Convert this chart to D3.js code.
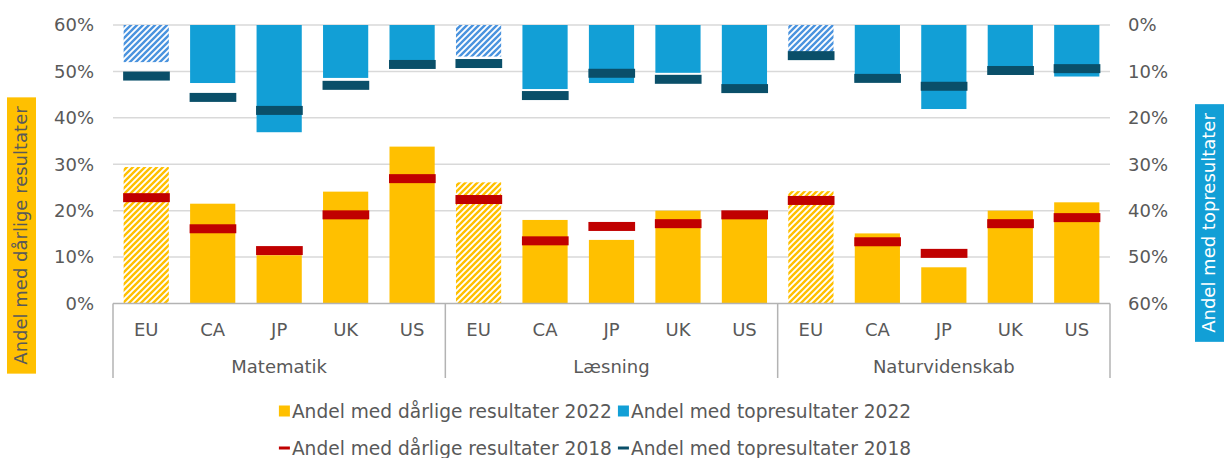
<!DOCTYPE html>
<html>
<head>
<meta charset="utf-8">
<script src="https://cdn.jsdelivr.net/npm/d3@7"></script>
<style>
  body { margin: 0; background: #fff; }
  svg { font-family: "DejaVu Sans", Verdana, sans-serif; }
</style>
</head>
<body>
<svg id="chart"></svg>
<script>
// data (shares, 0-1)
const subjects = ["Matematik", "Læsning", "Naturvidenskab"];
const countries = ["EU", "CA", "JP", "UK", "US"];
const hatched = ["EU"];

// order: Matematik EU..US, Læsning EU..US, Naturvidenskab EU..US
const poor2022 = [0.294, 0.215, 0.104, 0.241, 0.338,  0.261, 0.180, 0.137, 0.200, 0.186,  0.242, 0.151, 0.078, 0.200, 0.218];
const poor2018 = [0.228, 0.161, 0.114, 0.191, 0.269,  0.224, 0.135, 0.166, 0.172, 0.191,  0.222, 0.133, 0.108, 0.172, 0.185];
const top2022  = [0.080, 0.125, 0.231, 0.114, 0.082,  0.068, 0.138, 0.125, 0.103, 0.130,  0.058, 0.118, 0.181, 0.095, 0.111];
const top2018  = [0.110, 0.156, 0.184, 0.130, 0.085,  0.083, 0.152, 0.104, 0.117, 0.137,  0.066, 0.115, 0.132, 0.098, 0.094];

const yTicks = [0, 0.1, 0.2, 0.3, 0.4, 0.5, 0.6];
const legendRow1 = ["Andel med dårlige resultater 2022", "Andel med topresultater 2022"];
const legendRow2 = ["Andel med dårlige resultater 2018", "Andel med topresultater 2018"];
const leftTitle = "Andel med dårlige resultater";
const rightTitle = "Andel med topresultater";

const col = { yellow: "#FFC000", red: "#C00000", blue: "#129FD6", teal: "#0A4F69", hatchBlue: "#4A93DE", text: "#595959", grid: "#D9D9D9", axis: "#B3B3B3" };

const W = 1225, H = 458;
const svg = d3.select("#chart").attr("width", W).attr("height", H);

const plot = { left: 113, right: 1110, top: 25, bottom: 303.5 };

// build rows
const rows = [];
subjects.forEach(function (s, si) {
    countries.forEach(function (c, ci) {
        const i = si * countries.length + ci;
        rows.push({ key: s + "|" + c, subject: s, country: c, poor: poor2022[i], poorOld: poor2018[i], top: top2022[i], topOld: top2018[i] });
    });
});

const x = d3.scaleBand()
    .domain(rows.map(d => d.key))
    .range([plot.left, plot.right])
    .paddingInner(0.32)
    .paddingOuter(0.16);

const yL = d3.scaleLinear().domain([0, 0.6]).range([plot.bottom, plot.top]);
const yR = d3.scaleLinear().domain([0, 0.6]).range([plot.top, plot.bottom]);

// hatch patterns (fine upward diagonal)
const defs = svg.append("defs");
function hatch(id, color) {
    const p = defs.append("pattern").attr("id", id)
        .attr("patternUnits", "userSpaceOnUse").attr("width", 6).attr("height", 6);
    p.append("rect").attr("width", 6).attr("height", 6).attr("fill", "#fff");
    p.append("path").attr("d", "M0,6 L6,0 M-1.5,1.5 L1.5,-1.5 M4.5,7.5 L7.5,4.5")
        .attr("stroke", color).attr("stroke-width", 2.4);
}
hatch("hatchY", col.yellow);
hatch("hatchB", col.hatchBlue);

// gridlines
svg.append("g").selectAll("line")
    .data(yTicks.filter(t => t > 0))
    .enter().append("line")
    .attr("x1", plot.left).attr("x2", plot.right)
    .attr("y1", d => yL(d)).attr("y2", d => yL(d))
    .attr("stroke", col.grid).attr("stroke-width", 1.5);

// left axis labels
const fmt = d3.format(".0%");
svg.append("g").selectAll("text")
    .data(yTicks).enter().append("text")
    .attr("x", 94).attr("y", d => yL(d))
    .attr("dy", "0.35em").attr("text-anchor", "end")
    .attr("font-size", 18).attr("fill", col.text)
    .text(d => fmt(d));

// right axis labels
svg.append("g").selectAll("text")
    .data(yTicks).enter().append("text")
    .attr("x", 1128).attr("y", d => yR(d))
    .attr("dy", "0.35em").attr("text-anchor", "start")
    .attr("font-size", 18).attr("fill", col.text)
    .text(d => fmt(d));

// bars 2022
svg.append("g").selectAll("rect")
    .data(rows).enter().append("rect")
    .attr("x", d => x(d.key)).attr("width", x.bandwidth())
    .attr("y", d => yL(d.poor)).attr("height", d => yL(0) - yL(d.poor))
    .attr("fill", d => hatched.includes(d.country) ? "url(#hatchY)" : col.yellow);

svg.append("g").selectAll("rect")
    .data(rows).enter().append("rect")
    .attr("x", d => x(d.key)).attr("width", x.bandwidth())
    .attr("y", yR(0)).attr("height", d => yR(d.top) - yR(0))
    .attr("fill", d => hatched.includes(d.country) ? "url(#hatchB)" : col.blue);

// 2018 markers
const mh = 9;
svg.append("g").selectAll("rect")
    .data(rows).enter().append("rect")
    .attr("x", d => x(d.key) - 0.5).attr("width", x.bandwidth() + 1.5)
    .attr("y", d => yL(d.poorOld) - mh / 2).attr("height", mh)
    .attr("fill", col.red);

svg.append("g").selectAll("rect")
    .data(rows).enter().append("rect")
    .attr("x", d => x(d.key) - 0.5).attr("width", x.bandwidth() + 1.5)
    .attr("y", d => yR(d.topOld) - mh / 2).attr("height", mh)
    .attr("fill", col.teal);

// category axis
const ax = svg.append("g");
ax.append("line")
    .attr("x1", plot.left).attr("x2", plot.right)
    .attr("y1", plot.bottom).attr("y2", plot.bottom)
    .attr("stroke", col.axis).attr("stroke-width", 1.5);

const step = x.step();
const groupEdges = subjects.map((s, i) => x(s + "|" + countries[0]) - x.paddingOuter() * step)
    .concat([plot.right]);
ax.selectAll(".sep").data(groupEdges).enter().append("line")
    .attr("x1", d => d).attr("x2", d => d)
    .attr("y1", plot.bottom).attr("y2", 378)
    .attr("stroke", col.axis).attr("stroke-width", 1.5);

ax.selectAll(".cat").data(rows).enter().append("text")
    .attr("x", d => x(d.key) + x.bandwidth() / 2).attr("y", 330)
    .attr("dy", "0.35em").attr("text-anchor", "middle")
    .attr("font-size", 18).attr("fill", col.text)
    .text(d => d.country);

ax.selectAll(".grp").data(subjects).enter().append("text")
    .attr("x", (d, i) => (groupEdges[i] + groupEdges[i + 1]) / 2).attr("y", 366.5)
    .attr("dy", "0.35em").attr("text-anchor", "middle")
    .attr("font-size", 18).attr("fill", col.text)
    .text(d => d);

// axis titles in coloured boxes
function axisTitle(label, cx, cy, bg, fg) {
    const g = svg.append("g").attr("transform", "translate(" + cx + "," + cy + ") rotate(-90)");
    const r = g.append("rect");
    const t = g.append("text").attr("text-anchor", "middle").attr("dy", "0.35em")
        .attr("font-size", 18).attr("fill", fg).text(label);
    const len = t.node().getComputedTextLength();
    r.attr("x", -len / 2 - 9).attr("width", len + 18)
        .attr("y", -14).attr("height", 29).attr("fill", bg);
}
axisTitle(leftTitle, 21, 235.5, col.yellow, col.text);
axisTitle(rightTitle, 1209, 223, col.blue, "#fff");

// legend
function legendRow(labels, colors, y, kind) {
    const g = svg.append("g");
    let cx = 0;
    const items = [];
    labels.forEach(function (l, i) {
        const it = g.append("g");
        if (kind === "box") {
            it.append("rect").attr("x", 0).attr("y", -5.5).attr("width", 11).attr("height", 11).attr("fill", colors[i]);
        } else {
            it.append("rect").attr("x", 0).attr("y", -1.5).attr("width", 11).attr("height", 3).attr("fill", colors[i]);
        }
        const t = it.append("text").attr("x", 13).attr("dy", "0.35em")
            .attr("font-size", 18.6).attr("fill", col.text).text(l);
        const w = 13 + t.node().getComputedTextLength();
        items.push({ it: it, x: cx });
        cx += w + 6;
    });
    const total = cx - 6;
    const start = 595 - total / 2;
    items.forEach(d => d.it.attr("transform", "translate(" + (start + d.x) + "," + y + ")"));
}
legendRow(legendRow1, [col.yellow, col.blue], 411, "box");
legendRow(legendRow2, [col.red, col.teal], 448, "line");
</script>
</body>
</html>
